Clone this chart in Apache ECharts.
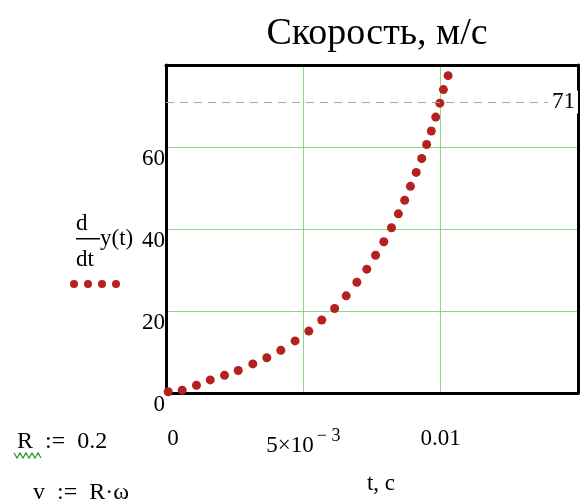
<!DOCTYPE html>
<html>
<head>
<meta charset="utf-8">
<script src="https://cdn.jsdelivr.net/npm/echarts@6/dist/echarts.min.js"></script>
<style>
  html, body { margin: 0; padding: 0; background: #fff; }
  #chart { width: 581px; height: 500px; }
</style>
</head>
<body>
<div id="chart"></div>
<script>
// точки кривой d/dt y(t)
const tValues = [0.00008, 0.00059, 0.00111, 0.00161, 0.00213, 0.00263, 0.00316, 0.00367,
  0.00418, 0.0047, 0.0052, 0.00567, 0.00614, 0.00656, 0.00695, 0.00731, 0.00763,
  0.00793, 0.00821, 0.00846, 0.00869, 0.0089, 0.00911, 0.00931, 0.00949, 0.00966,
  0.00982, 0.00997, 0.0101, 0.01027];
const vValues = [0.3, 0.7, 1.9, 3.2, 4.3, 5.5, 7.1, 8.6, 10.4, 12.7, 15.1, 17.8, 20.6,
  23.7, 27.0, 30.2, 33.6, 36.9, 40.3, 43.7, 47.0, 50.4, 53.8, 57.2, 60.6, 63.9, 67.3,
  70.7, 74.0, 77.4];
const markerValue = 71;
const xTicks = ["{z|0}", "{a|5×10}{sup|− 3}", "0.01", ""];
const yTicks = ["0", "20", "40", "60", ""];

const serif = "Liberation Serif";
const dotColor = "#b3221f";
const gridGreen = "#6fd06f";
const frame = { show: true, onZero: false, lineStyle: { color: "#000", width: 3 } };
const chart = echarts.init(document.getElementById("chart"));

// рамка сверху и справа — отдельные оси без подписей
const frameAxis = (position, min, max) => ({
  type: "value",
  position: position,
  min: min,
  max: max,
  axisLine: frame,
  axisTick: { show: false },
  axisLabel: { show: false },
  splitLine: { show: false },
});

chart.setOption({
  animation: false,
  title: {
    text: "Скорость, м/с",
    left: 372,
    top: 10,
    textAlign: "center",
    textStyle: { fontFamily: serif, fontSize: 38, fontWeight: "normal", color: "#000" },
  },
  grid: {
    left: 166,
    right: 2,
    top: 65,
    bottom: 96,
  },
  xAxis: [
    {
      type: "value",
      min: 0,
      max: 0.015,
      interval: 0.005,
      name: "t, c",
      nameLocation: "middle",
      nameGap: 79,
      nameTextStyle: { fontFamily: serif, fontSize: 23, color: "#000", padding: [0, 0, 0, 18] },
      axisLine: frame,
      axisTick: { show: false },
      splitLine: { lineStyle: { color: gridGreen, width: 1, opacity: 0.8 } },
      axisLabel: {
        margin: 34,
        color: "#000",
        fontFamily: serif,
        fontSize: 23,
        formatter: (v, i) => xTicks[i],
        rich: {
          z: { fontFamily: serif, fontSize: 23, color: "#000", padding: [0, 0, 0, 14] },
          a: { fontFamily: serif, fontSize: 23, color: "#000" },
          sup: { fontFamily: serif, fontSize: 18, color: "#000", padding: [0, 0, 20, 3] },
        },
      },
    },
    frameAxis("top", 0, 0.015),
  ],
  yAxis: [
    {
      type: "value",
      min: 0,
      max: 80,
      interval: 20,
      axisLine: frame,
      axisTick: { show: false },
      splitLine: { lineStyle: { color: gridGreen, width: 1, opacity: 0.8 } },
      axisLabel: {
        margin: 1,
        color: "#000",
        fontFamily: serif,
        fontSize: 23,
        lineHeight: 23,
        verticalAlign: "top",
        padding: [0, 0, 0, 0],
        formatter: (v, i) => yTicks[i],
      },
    },
    frameAxis("right", 0, 80),
  ],
  series: [
    {
      type: "scatter",
      data: tValues.map((t, i) => [t, vValues[i]]),
      symbol: "circle",
      symbolSize: 9,
      itemStyle: { color: dotColor, opacity: 1 },
      markLine: {
        silent: true,
        symbol: "none",
        lineStyle: { type: [8, 6], color: "#bf9a9a", width: 1 },
        label: {
          position: "insideEnd",
          distance: 0,
          verticalAlign: "middle",
          formatter: "{c}",
          fontFamily: serif,
          fontSize: 23,
          color: "#000",
          backgroundColor: "#fff",
          padding: [0, 3, 0, 4],
        },
        data: [{ yAxis: markerValue }],
      },
    },
  ],
  graphic: [
    { type: "text", left: 76, top: 212, style: { text: "d", font: "23px " + serif, fill: "#000" } },
    { type: "rect", shape: { x: 76, y: 238, width: 24, height: 1.5 }, style: { fill: "#000" } },
    { type: "text", left: 100, top: 227, style: { text: "y(t)", font: "23px " + serif, fill: "#000" } },
    { type: "text", left: 76, top: 248, style: { text: "dt", font: "23px " + serif, fill: "#000" } },
    { type: "circle", shape: { cx: 74, cy: 284, r: 4 }, style: { fill: dotColor } },
    { type: "circle", shape: { cx: 88, cy: 284, r: 4 }, style: { fill: dotColor } },
    { type: "circle", shape: { cx: 102, cy: 284, r: 4 }, style: { fill: dotColor } },
    { type: "circle", shape: { cx: 116, cy: 284, r: 4 }, style: { fill: dotColor } },
    { type: "text", left: 17, top: 430, style: { text: "R  :=  0.2", font: "24px " + serif, fill: "#000" } },
    {
      type: "polyline",
      shape: { points: [[14, 453], [17, 458], [20, 453], [23, 458], [26, 453], [29, 458], [32, 453], [35, 458], [38, 453], [41, 458]] },
      style: { stroke: "#2a9a2a", lineWidth: 1.3, fill: null },
    },
    { type: "text", left: 33, top: 481, style: { text: "v  :=  R·ω", font: "24px " + serif, fill: "#000" } },
  ],
});
</script>
</body>
</html>
